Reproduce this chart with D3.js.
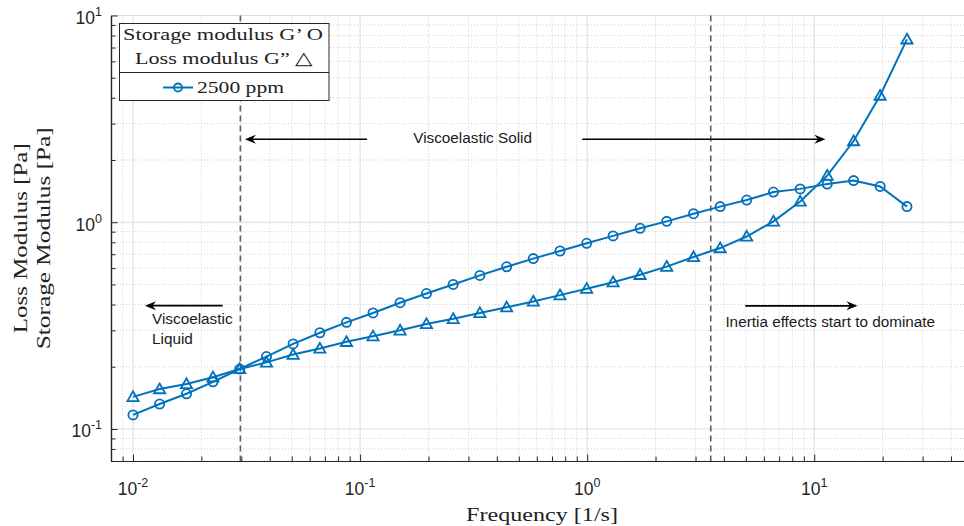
<!DOCTYPE html>
<html>
<head>
<meta charset="utf-8">
<script src="https://cdn.jsdelivr.net/npm/d3@7"></script>
<style>
    body { margin: 0; background: #fff; }
    svg { display: block; }
</style>
</head>
<body>
<div id="my_dataviz"></div>
<script>
// frequency sweep [1/s]
const frequency = [0.01, 0.0131, 0.0172, 0.0225, 0.0295, 0.0387, 0.0507, 0.0665, 0.0871, 0.114,
    0.150, 0.196, 0.257, 0.337, 0.442, 0.579, 0.759, 0.995, 1.30, 1.71,
    2.24, 2.94, 3.85, 5.04, 6.61, 8.67, 11.4, 14.9, 19.5, 25.6];

// storage modulus G' [Pa] (circles)
const storageModulus = [0.117, 0.132, 0.148, 0.169, 0.195, 0.224, 0.258, 0.292, 0.328, 0.364,
    0.408, 0.452, 0.500, 0.553, 0.609, 0.667, 0.726, 0.791, 0.859, 0.935,
    1.01, 1.10, 1.19, 1.28, 1.40, 1.45, 1.53, 1.59, 1.49, 1.19];

// loss modulus G" [Pa] (triangles)
const lossModulus = [0.143, 0.156, 0.165, 0.178, 0.195, 0.210, 0.229, 0.245, 0.264, 0.281,
    0.300, 0.322, 0.341, 0.364, 0.388, 0.414, 0.444, 0.477, 0.513, 0.557,
    0.610, 0.679, 0.750, 0.853, 1.01, 1.26, 1.68, 2.47, 4.10, 7.67];

const xMajorTicks = [0.01, 0.1, 1, 10];
const xTickExponents = ["-2", "-1", "0", "1"];
const yMajorTicks = [0.1, 1, 10];
const yTickExponents = ["-1", "0", "1"];

// regime boundaries [1/s]
const regimeBounds = [0.0297, 3.5];

(function () {
    const margin = { top: 15.5, left: 111 },
        width = 862,
        height = 445.5;

    const blue = "#0072BD", axisColor = "#262626";

    const svg = d3.select("#my_dataviz")
        .append("svg")
        .attr("width", 964)
        .attr("height", 526);

    const g = svg.append("g")
        .attr("transform", `translate(${margin.left},${margin.top})`);

    const x = d3.scaleLog().domain([0.008, 50]).range([0, width]);
    const y = d3.scaleLog().domain([0.07, 10]).range([height, 0]);

    const xMinor = x.ticks().filter(t => !xMajorTicks.some(m => Math.abs(m - t) < 1e-9));
    const yMinor = y.ticks().filter(t => !yMajorTicks.some(m => Math.abs(m - t) < 1e-9));

    // minor grid (dotted)
    g.append("g").selectAll("line").data(xMinor).enter().append("line")
        .attr("x1", d => x(d)).attr("x2", d => x(d))
        .attr("y1", 0).attr("y2", height)
        .attr("stroke", "#cfcfcf").attr("stroke-dasharray", "1,2");
    g.append("g").selectAll("line").data(yMinor).enter().append("line")
        .attr("y1", d => y(d)).attr("y2", d => y(d))
        .attr("x1", 0).attr("x2", width)
        .attr("stroke", "#cfcfcf").attr("stroke-dasharray", "1,2");

    // major grid
    g.append("g").selectAll("line").data(xMajorTicks).enter().append("line")
        .attr("x1", d => x(d)).attr("x2", d => x(d))
        .attr("y1", 0).attr("y2", height)
        .attr("stroke", "#dcdcdc");
    g.append("g").selectAll("line").data(yMajorTicks).enter().append("line")
        .attr("y1", d => y(d)).attr("y2", d => y(d))
        .attr("x1", 0).attr("x2", width)
        .attr("stroke", "#dcdcdc");

    // axes with inward ticks
    function styleAxis(sel) {
        sel.select(".domain").attr("stroke", axisColor).attr("stroke-width", 1.2);
        sel.selectAll(".tick line").attr("stroke", axisColor);
        sel.selectAll(".tick text").remove();
    }
    g.append("g").attr("transform", `translate(0,${height})`)
        .call(d3.axisBottom(x).tickValues(xMinor).tickSizeInner(-4.5).tickSizeOuter(0))
        .call(styleAxis);
    g.append("g").attr("transform", `translate(0,${height})`)
        .call(d3.axisBottom(x).tickValues(xMajorTicks).tickSizeInner(-6.5).tickSizeOuter(0))
        .call(styleAxis);
    g.append("g")
        .call(d3.axisLeft(y).tickValues(yMinor).tickSizeInner(-4.5).tickSizeOuter(0))
        .call(styleAxis);
    g.append("g")
        .call(d3.axisLeft(y).tickValues(yMajorTicks).tickSizeInner(-6.5).tickSizeOuter(0))
        .call(styleAxis);

    // tick labels 10^n
    function powerLabel(sel, exp) {
        sel.append("tspan").text("10");
        sel.append("tspan").attr("dy", -8).attr("font-size", 12.5).text(exp);
    }
    xMajorTicks.forEach((t, i) => {
        g.append("text")
            .attr("x", x(t)).attr("y", height + 34)
            .attr("text-anchor", "middle")
            .attr("font-family", "Liberation Sans, Arial, sans-serif")
            .attr("font-size", 17.5).attr("fill", axisColor)
            .call(powerLabel, xTickExponents[i]);
    });
    yMajorTicks.forEach((t, i) => {
        g.append("text")
            .attr("x", -9).attr("y", y(t) + 8.5)
            .attr("text-anchor", "end")
            .attr("font-family", "Liberation Sans, Arial, sans-serif")
            .attr("font-size", 17.5).attr("fill", axisColor)
            .call(powerLabel, yTickExponents[i]);
    });

    // axis labels
    const serif = "Liberation Serif, Times New Roman, serif";
    svg.append("text")
        .attr("x", margin.left + x(Math.sqrt(0.008 * 50))).attr("y", 521)
        .attr("text-anchor", "middle")
        .attr("font-family", serif).attr("font-size", 19).attr("fill", "#222")
        .attr("textLength", 152).attr("lengthAdjust", "spacingAndGlyphs")
        .text("Frequency [1/s]");
    const yMid = margin.top + height / 2;
    [["Loss Modulus [Pa]", 27, 190], ["Storage Modulus [Pa]", 50, 222]].forEach(([label, bx, len]) => {
        svg.append("text")
            .attr("transform", `translate(${bx},${yMid}) rotate(-90)`)
            .attr("text-anchor", "middle")
            .attr("font-family", serif).attr("font-size", 19).attr("fill", "#222")
            .attr("textLength", len).attr("lengthAdjust", "spacingAndGlyphs")
            .text(label);
    });

    // regime boundaries
    g.append("g").selectAll("line").data(regimeBounds).enter().append("line")
        .attr("x1", d => x(d)).attr("x2", d => x(d))
        .attr("y1", 0).attr("y2", height)
        .attr("stroke", "#606060").attr("stroke-width", 1.6)
        .attr("stroke-dasharray", "6,4");

    // series
    const line = d3.line().x(d => x(d[0])).y(d => y(d[1]));
    const storageData = frequency.map((f, i) => [f, storageModulus[i]]);
    const lossData = frequency.map((f, i) => [f, lossModulus[i]]);

    [storageData, lossData].forEach(data => {
        g.append("path").datum(data)
            .attr("fill", "none")
            .attr("stroke", blue)
            .attr("stroke-width", 2)
            .attr("d", line);
    });

    g.append("g").selectAll("circle").data(storageData).enter().append("circle")
        .attr("cx", d => x(d[0])).attr("cy", d => y(d[1]))
        .attr("r", 4.6)
        .attr("fill", "none").attr("stroke", blue).attr("stroke-width", 1.8);

    const tri = "M0,-5.6L5.6,4.2L-5.6,4.2Z";
    g.append("g").selectAll("path").data(lossData).enter().append("path")
        .attr("transform", d => `translate(${x(d[0])},${y(d[1])})`)
        .attr("d", tri)
        .attr("fill", "none").attr("stroke", blue).attr("stroke-width", 1.8);

    // annotations (data coordinates)
    const arrows = [
        { from: [0.1074, 2.52], to: [0.0311, 2.52] },
        { from: [0.951, 2.52], to: [11.2, 2.52] },
        { from: [0.0248, 0.395], to: [0.01129, 0.395] },
        { from: [4.97, 0.394], to: [15.5, 0.394] }
    ];
    arrows.forEach(a => {
        const x1 = x(a.from[0]), x2 = x(a.to[0]), yy = y(a.from[1]);
        const dir = Math.sign(x2 - x1);
        g.append("line")
            .attr("x1", x1).attr("x2", x2 - dir * 6)
            .attr("y1", yy).attr("y2", yy)
            .attr("stroke", "#000").attr("stroke-width", 1.6);
        g.append("path")
            .attr("d", `M${x2},${yy}L${x2 - dir * 11},${yy - 4.5}L${x2 - dir * 7.5},${yy}L${x2 - dir * 11},${yy + 4.5}Z`)
            .attr("fill", "#000");
    });

    const notes = [
        { text: "Viscoelastic Solid", at: [0.313, 2.56], anchor: "middle" },
        { text: "Viscoelastic", at: [0.01213, 0.340], anchor: "start" },
        { text: "Liquid", at: [0.01213, 0.273], anchor: "start" },
        { text: "Inertia effects start to dominate", at: [11.76, 0.331], anchor: "middle" }
    ];
    notes.forEach(n => {
        g.append("text")
            .attr("x", x(n.at[0])).attr("y", y(n.at[1]))
            .attr("dy", "0.35em")
            .attr("text-anchor", n.anchor)
            .attr("font-family", "Liberation Sans, Arial, sans-serif")
            .attr("font-size", 15.3).attr("fill", "#1a1a1a")
            .text(n.text);
    });

    // legend
    const leg = svg.append("g");
    leg.append("rect")
        .attr("x", 119.5).attr("y", 23.5).attr("width", 209.5).attr("height", 77)
        .attr("fill", "#fff").attr("stroke", axisColor).attr("stroke-width", 1);
    leg.append("line")
        .attr("x1", 119.5).attr("x2", 329).attr("y1", 72.5).attr("y2", 72.5)
        .attr("stroke", axisColor);
    leg.append("text")
        .attr("x", 223).attr("y", 39.5).attr("text-anchor", "middle")
        .attr("font-family", serif).attr("font-size", 17.5).attr("fill", "#222")
        .attr("textLength", 200).attr("lengthAdjust", "spacingAndGlyphs")
        .text("Storage modulus G\u2019 O");
    leg.append("text")
        .attr("x", 224).attr("y", 63.5).attr("text-anchor", "middle")
        .attr("font-family", serif).attr("font-size", 17.5).attr("fill", "#222")
        .attr("textLength", 178).attr("lengthAdjust", "spacingAndGlyphs")
        .text("Loss modulus G\u201D \u25B3");
    leg.append("line")
        .attr("x1", 163).attr("x2", 193).attr("y1", 87.5).attr("y2", 87.5)
        .attr("stroke", blue).attr("stroke-width", 2);
    leg.append("circle")
        .attr("cx", 178).attr("cy", 87.5).attr("r", 4)
        .attr("fill", "none").attr("stroke", blue).attr("stroke-width", 1.8);
    leg.append("text")
        .attr("x", 197).attr("y", 93).attr("text-anchor", "start")
        .attr("font-family", serif).attr("font-size", 17.5).attr("fill", "#222")
        .attr("textLength", 87).attr("lengthAdjust", "spacingAndGlyphs")
        .text("2500 ppm");
})();
</script>
</body>
</html>
